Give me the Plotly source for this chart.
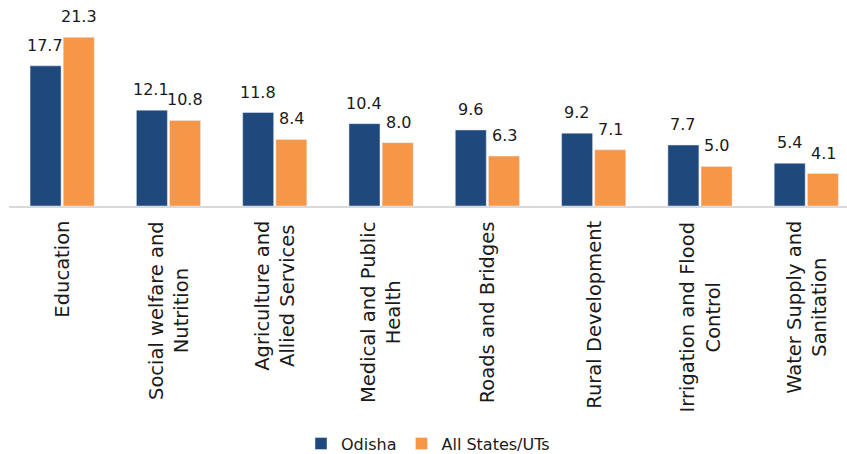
import plotly.graph_objects as go

categories = [
    "Education",
    "Social welfare and<br>Nutrition",
    "Agriculture and<br>Allied Services",
    "Medical and Public<br>Health",
    "Roads and Bridges",
    "Rural Development",
    "Irrigation and Flood<br>Control",
    "Water Supply and<br>Sanitation",
]
odisha = [17.7, 12.1, 11.8, 10.4, 9.6, 9.2, 7.7, 5.4]
all_states = [21.3, 10.8, 8.4, 8.0, 6.3, 7.1, 5.0, 4.1]

font_name = "DejaVu Sans"
text_col = "#1a1a1a"

fig = go.Figure()
fig.add_trace(go.Bar(x=categories, y=odisha, name="Odisha", marker_color="#1F497D"))
fig.add_trace(go.Bar(x=categories, y=all_states, name="All States/UTs", marker_color="#F79646"))

# value labels sit a bit higher above the bars than plotly's own text
for vals, dx in ((odisha, -17), (all_states, 17)):
    for c, v in zip(categories, vals):
        fig.add_annotation(
            x=c, y=v, xref="x", yref="y", text=f"{v:.1f}",
            showarrow=False, xanchor="center", yanchor="bottom",
            xshift=dx, yshift=9,
            font=dict(family=font_name, size=16, color=text_col),
        )

# category labels, rotated, lines centred like the original
for c in categories:
    fig.add_annotation(
        x=c, xref="x", y=0, yref="paper", yshift=-13,
        text=c, textangle=-90, showarrow=False,
        xanchor="center", yanchor="top", align="center",
        font=dict(family=font_name, size=19.5, color=text_col),
    )

fig.update_layout(
    width=847, height=454,
    margin=dict(l=9, r=0, t=8, b=248, autoexpand=False),
    plot_bgcolor="white", paper_bgcolor="white",
    barmode="group", bargap=0.376, bargroupgap=0.065,
    xaxis=dict(
        type="category", range=[-0.5, 7.383],
        showline=True, linecolor="#D9D9D9", linewidth=1.5,
        showticklabels=False, showgrid=False, ticks="",
    ),
    yaxis=dict(range=[0, 25], visible=False),
    legend=dict(
        orientation="h", x=0.5, xanchor="center",
        y=-1.2, yanchor="middle",
        font=dict(family=font_name, size=16, color=text_col),
    ),
    showlegend=True,
)

fig.write_html("out.html", config={"displayModeBar": False},
               post_script="document.body.style.margin='0';")
